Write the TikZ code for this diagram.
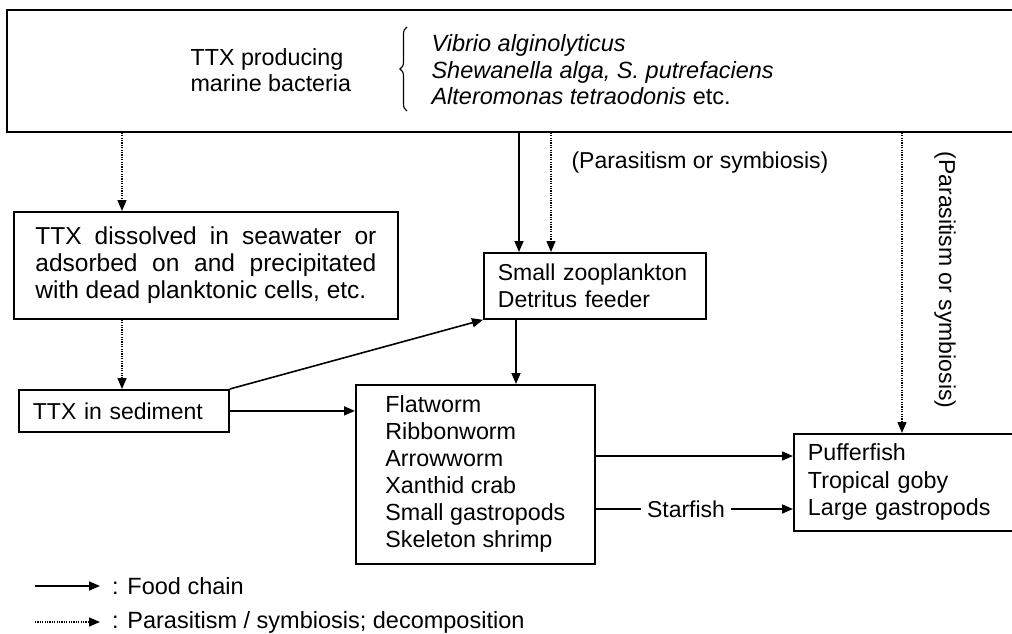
\documentclass[tikz,border=0pt]{standalone}
\usepackage{fontspec}
\setmainfont{Liberation Sans}
\usetikzlibrary{arrows.meta,decorations.pathreplacing}
\begin{document}
\begin{tikzpicture}[x=1pt,y=-1pt,
  every node/.style={font=\fontsize{23}{27}\selectfont},
  box/.style={draw,line width=1.8pt,anchor=north west,align=left,inner ysep=0pt},
  tip/.style={-{Triangle[length=11pt,width=9pt]}},
  food/.style={tip,line width=1.6pt},
  para/.style={tip,line width=1.4pt,dash pattern=on 1.2pt off 1.2pt}]
\useasboundingbox (0,0) rectangle (1012,634);
\clip (0,0) rectangle (1012,634);
% top box
\node[box,minimum width=1016pt,minimum height=122pt] (top) at (6,9) {};
\node[anchor=west,align=left,font=\fontsize{23.3}{26}\selectfont] (prod) at (187,70) {TTX producing\\marine bacteria};
\node[anchor=west,align=left,font=\fontsize{23.5}{26.5}\selectfont] (spec) at (428,70)
  {\itshape Vibrio alginolyticus\\\itshape Shewanella alga, S. putrefaciens\\\itshape Alteromonas tetraodonis \upshape etc.};
\draw[line width=1.1pt,decorate,decoration={brace,amplitude=7pt,aspect=0.5}] (407,111) -- (407,27);
% boxes
\node[box,inner xsep=20pt,minimum width=384pt,minimum height=107pt,font=\fontsize{24.5}{27}\selectfont] (diss) at (13,211)
  {\makebox[341pt][l]{TTX\hfill dissolved\hfill in\hfill seawater\hfill or}\\
   \makebox[341pt][l]{adsorbed\hfill on\hfill and\hfill precipitated}\\
   \makebox[341pt][l]{with dead planktonic cells, etc.}};
\node[box,text width=182pt,inner xsep=14pt,minimum height=42pt] (sed) at (18,389) {TTX in sediment};
\node[box,text width=194pt,inner xsep=14pt,minimum height=66pt] (zoo) at (483,252) {Small zooplankton\\Detritus feeder};
\node[box,minimum width=239pt,minimum height=179pt,font=\fontsize{23.3}{27}\selectfont] (flat) at (355,384)
  {Flatworm\\Ribbonworm\\Arrowworm\\Xanthid crab\\Small gastropods\\Skeleton shrimp};
\node[box,text width=200pt,inner xsep=14pt,minimum height=97pt,font=\fontsize{23.3}{27.5}\selectfont] (puff) at (793,433)
  {Pufferfish\\Tropical goby\\Large gastropods};
% labels
\node[anchor=west] (lab1) at (568,163) {(Parasitism or symbiosis)};
\node[rotate=-90] (lab2) at (945,280) {(Parasitism or symbiosis)};
\node[inner xsep=6pt] (star) at (686,509) {Starfish};
% coordinates
\coordinate (xA) at (122,0);
\coordinate (xB) at (519,0);
\coordinate (xC) at (551,0);
\coordinate (xD) at (516,0);
\coordinate (xE) at (902,0);
\coordinate (yF) at (0,456);
\coordinate (yS) at (0,509);
% connectors
\draw[para] (top.south -| xA) -- (diss.north -| xA);
\draw[para] (diss.south -| xA) -- (sed.north -| xA);
\draw[food] (top.south -| xB) -- (zoo.north -| xB);
\draw[para] (top.south -| xC) -- (zoo.north -| xC);
\draw[food] (zoo.south -| xD) -- (flat.north -| xD);
\draw[food] (sed.north east) -- (zoo.south west);
\draw[food] (sed.east) -- (sed.east -| flat.west);
\draw[food] (flat.east |- yF) -- (puff.west |- yF);
\draw[line width=1.6pt] (flat.east |- yS) -- (star.west);
\draw[food] (star.east) -- (puff.west |- yS);
\draw[para] (top.south -| xE) -- (puff.north -| xE);
% legend
\coordinate (l1) at (35,586);
\coordinate (l2) at (35,622);
\node[anchor=west,inner xsep=12pt,font=\fontsize{23.5}{27}\selectfont] (leg1) at (100,586) {: Food chain};
\node[anchor=west,inner xsep=12pt,font=\fontsize{23.5}{27}\selectfont] (leg2) at (100,622) {: Parasitism / symbiosis; decomposition};
\draw[food] (l1) -- (leg1.west);
\draw[para] (l2) -- (leg2.west);
\end{tikzpicture}
\end{document}
